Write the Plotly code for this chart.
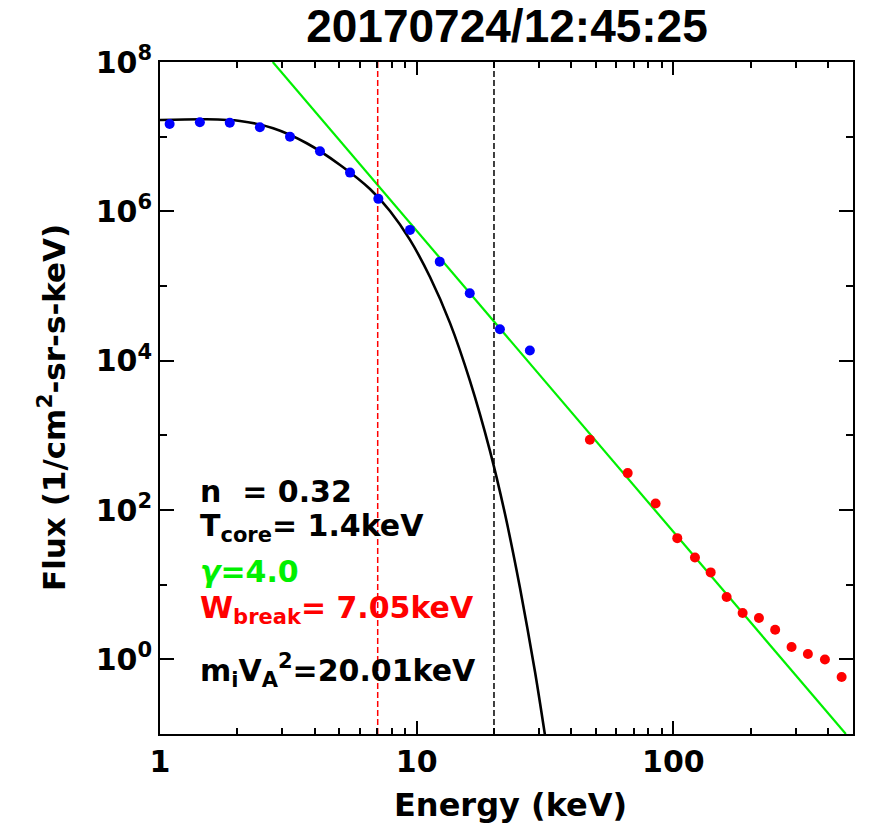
import plotly.graph_objects as go

# ---- data ----
energy_blue = [1.09, 1.43, 1.87, 2.45, 3.21, 4.20, 5.50, 7.09, 9.42, 12.3, 16.1, 21.1, 27.6]
flux_blue = [1.48e7, 1.56e7, 1.54e7, 1.34e7, 1.0e7, 6.38e6, 3.30e6, 1.47e6, 5.64e5, 2.12e5, 8.0e4, 2.64e4, 1.37e4]

energy_red = [47.3, 66.4, 85.3, 103.6, 121.4, 139.8, 161.3, 186.2, 215.5, 249.3, 288.8, 334.4, 389.6, 452.6]
flux_red = [871, 312, 122, 42, 23.1, 14.6, 6.82, 4.17, 3.57, 2.49, 1.46, 1.18, 0.997, 0.58]

core_E = [1.0, 1.52, 2.05, 2.76, 3.73, 5.03, 6.58, 7.87, 9.42, 11.27, 13.48, 16.13, 19.30, 22.08, 25.26, 28.91, 31.6]
core_F = [1.673e7, 1.709e7, 1.623e7, 1.295e7, 8.16e6, 4.18e6, 1.99e6, 1.01e6, 4.14e5, 1.32e5, 3.21e4, 5366, 620, 88.9, 9.09, 0.682, 0.0978]

power_E = [2.75, 470]
power_F = [1e8, 0.1]

w_break = 7.05
mi_va2 = 20.01
vline_F = [0.1, 1e8]

x_major = [1, 10, 100]
x_labels = ["1", "10", "100"]
x_minor = [2, 3, 4, 5, 6, 7, 8, 9, 20, 30, 40, 50, 60, 70, 80, 90, 200, 300, 400]
y_major = [1, 1e2, 1e4, 1e6, 1e8]
y_labels = ["10<sup>0</sup>", "10<sup>2</sup>", "10<sup>4</sup>", "10<sup>6</sup>", "10<sup>8</sup>"]
y_minor = [10, 1e3, 1e5, 1e7]

title_text = "20170724/12:45:25"

FONT = "DejaVu Sans"
GREEN = "#00F000"

fig = go.Figure()
fig.add_trace(go.Scatter(x=core_E, y=core_F, mode="lines", line=dict(color="black", width=2.6, shape="spline", smoothing=0.8), hoverinfo="skip"))
fig.add_trace(go.Scatter(x=power_E, y=power_F, mode="lines", line=dict(color=GREEN, width=2.2)))
fig.add_trace(go.Scatter(x=[w_break, w_break], y=vline_F, mode="lines", line=dict(color="#FF0000", width=1.5, dash="6px,3px")))
fig.add_trace(go.Scatter(x=[mi_va2, mi_va2], y=vline_F, mode="lines", line=dict(color="black", width=1.5, dash="6px,3px")))
fig.add_trace(go.Scatter(x=energy_blue, y=flux_blue, mode="markers", marker=dict(color="#0000FF", size=10, line=dict(width=0))))
fig.add_trace(go.Scatter(x=energy_red, y=flux_red, mode="markers", marker=dict(color="#FF0000", size=10, line=dict(width=0))))

tickfont = dict(family=FONT, size=30, color="black", weight="bold")

fig.update_xaxes(type="log", range=[0, 2.7], tickmode="array", tickvals=x_major, ticktext=x_labels,
                 ticks="inside", ticklen=13, tickwidth=2, tickcolor="black",
                 showline=True, linewidth=2, linecolor="black", mirror="ticks", showgrid=False, zeroline=False,
                 minor=dict(tickmode="array", tickvals=x_minor, ticks="inside", ticklen=6, tickwidth=2,
                            tickcolor="black", showgrid=False),
                 tickfont=tickfont)
fig.update_yaxes(type="log", range=[-1, 8], tickmode="array", tickvals=y_major, ticktext=y_labels,
                 ticks="inside", ticklen=14, tickwidth=2, tickcolor="black",
                 showline=True, linewidth=2, linecolor="black", mirror="ticks", showgrid=False, zeroline=False,
                 minor=dict(tickmode="array", tickvals=y_minor, ticks="inside", ticklen=7, tickwidth=2,
                            tickcolor="black", showgrid=False),
                 tickfont=tickfont)

def py(p):
    return (734 - p) / 672.0

def px(p):
    return (p - 160) / 693.0

ann = []
ann.append(dict(text="Energy (keV)", x=px(510), y=0, xref="paper", yref="paper", xanchor="center", yanchor="top",
                yshift=-50, showarrow=False, font=dict(family=FONT, size=32, color="black", weight="bold")))
ann.append(dict(text="Flux (1/cm<sup>2</sup>-sr-s-keV)", x=0, y=py(408), xref="paper", yref="paper",
                xanchor="center", yanchor="middle", xshift=-(160 - 52), textangle=-90, showarrow=False,
                font=dict(family=FONT, size=31, color="black", weight="bold")))

lines = [
    ("n\u00a0\u00a0= 0.32", 491, "black"),
    ("T<sub>core</sub>= 1.4keV", 527, "black"),
    ("<i>γ</i>=4.0", 571, GREEN),
    ("W<sub>break</sub>= 7.05keV", 609, "#FF0000"),
    ("m<sub>i</sub>V<sub>A</sub><sup>2</sup>=20.01keV", 670, "black"),
]
for t, yy, c in lines:
    ann.append(dict(text=t, x=px(198), y=py(yy), xref="paper", yref="paper", xanchor="left", yanchor="middle",
                    showarrow=False, font=dict(family=FONT, size=30, color=c, weight="bold")))

fig.update_layout(
    width=869, height=834,
    margin=dict(l=160, r=16, t=62, b=100),
    paper_bgcolor="white", plot_bgcolor="white",
    showlegend=False,
    title=dict(text=title_text, x=px(507), xref="paper", xanchor="center", y=1 - 10 / 834, yref="container",
               yanchor="top", font=dict(family="Liberation Sans", size=46, color="black", weight="bold")),
    annotations=ann,
)

fig.write_html("out.html")
